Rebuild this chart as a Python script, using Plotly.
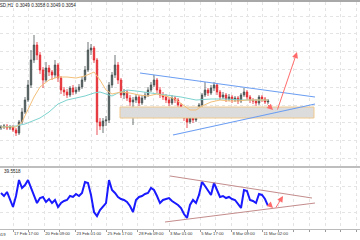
import plotly.graph_objects as go

# ---------------- data ----------------
idx = list(range(90))

opens = [0.3027,0.3028,0.3029,0.3027,0.3028,0.3025,0.3022,0.3033,0.3043,0.3055,
         0.3070,0.3095,0.3110,0.3100,0.3085,0.3075,0.3087,0.3083,0.3080,0.3090,
         0.3077,0.3065,0.3063,0.3060,0.3067,0.3063,0.3065,0.3068,0.3075,0.3085,
         0.3105,0.3107,0.3095,0.3033,0.3029,0.3034,0.3035,0.3070,0.3080,0.3090,
         0.3075,0.3060,0.3063,0.3057,0.3053,0.3055,0.3058,0.3052,0.3057,0.3060,
         0.3065,0.3070,0.3075,0.3065,0.3060,0.3058,0.3055,0.3052,0.3057,0.3055,
         0.3050,0.3045,0.3037,0.3033,0.3037,0.3035,0.3040,0.3050,0.3060,0.3065,
         0.3062,0.3067,0.3070,0.3063,0.3058,0.3060,0.3056,0.3058,0.3055,0.3057,
         0.3054,0.3060,0.3063,0.3058,0.3055,0.3054,0.3052,0.3058,0.3056,0.3053]
closes = [0.3028,0.3029,0.3027,0.3028,0.3025,0.3022,0.3033,0.3043,0.3055,0.3070,
          0.3095,0.3110,0.3100,0.3085,0.3075,0.3087,0.3083,0.3080,0.3090,0.3077,
          0.3065,0.3063,0.3060,0.3067,0.3063,0.3065,0.3068,0.3075,0.3085,0.3105,
          0.3107,0.3095,0.3033,0.3029,0.3034,0.3035,0.3070,0.3080,0.3090,0.3075,
          0.3060,0.3063,0.3057,0.3053,0.3055,0.3058,0.3052,0.3057,0.3060,0.3065,
          0.3070,0.3075,0.3065,0.3060,0.3058,0.3055,0.3052,0.3057,0.3055,0.3050,
          0.3045,0.3037,0.3033,0.3037,0.3035,0.3040,0.3050,0.3060,0.3065,0.3062,
          0.3067,0.3070,0.3063,0.3058,0.3060,0.3056,0.3058,0.3055,0.3057,0.3054,
          0.3060,0.3063,0.3058,0.3055,0.3054,0.3052,0.3058,0.3056,0.3053,0.3054]
highs = [0.3030,0.3031,0.3031,0.3030,0.3030,0.3027,0.3035,0.3047,0.3058,0.3075,
         0.3105,0.3120,0.3113,0.3103,0.3088,0.3093,0.3090,0.3085,0.3095,0.3092,
         0.3079,0.3068,0.3066,0.3069,0.3070,0.3068,0.3071,0.3078,0.3089,0.3113,
         0.3111,0.3109,0.3097,0.3037,0.3037,0.3039,0.3073,0.3083,0.3100,0.3093,
         0.3077,0.3066,0.3065,0.3060,0.3058,0.3061,0.3060,0.3060,0.3063,0.3068,
         0.3073,0.3080,0.3077,0.3068,0.3063,0.3061,0.3058,0.3060,0.3059,0.3057,
         0.3052,0.3047,0.3039,0.3040,0.3039,0.3043,0.3052,0.3062,0.3073,0.3067,
         0.3070,0.3073,0.3072,0.3065,0.3063,0.3062,0.3061,0.3060,0.3059,0.3059,
         0.3062,0.3067,0.3065,0.3060,0.3057,0.3056,0.3060,0.3060,0.3058,0.3056]
lows = [0.3025,0.3026,0.3025,0.3025,0.3023,0.3019,0.3020,0.3031,0.3041,0.3053,
        0.3067,0.3092,0.3095,0.3081,0.3067,0.3073,0.3079,0.3075,0.3077,0.3073,
        0.3061,0.3059,0.3057,0.3058,0.3060,0.3061,0.3063,0.3066,0.3073,0.3083,
        0.3100,0.3092,0.3020,0.3025,0.3022,0.3029,0.3032,0.3067,0.3077,0.3071,
        0.3057,0.3056,0.3054,0.3049,0.3030,0.3052,0.3049,0.3050,0.3055,0.3058,
        0.3063,0.3068,0.3062,0.3057,0.3055,0.3052,0.3049,0.3050,0.3052,0.3047,
        0.3042,0.3034,0.3027,0.3031,0.3032,0.3033,0.3038,0.3048,0.3058,0.3059,
        0.3060,0.3064,0.3060,0.3055,0.3056,0.3053,0.3054,0.3052,0.3053,0.3051,
        0.3052,0.3058,0.3055,0.3052,0.3051,0.3049,0.3050,0.3053,0.3051,0.3051]

ma_fast_x = [0,3,5,7,9,11,13,16,19,22,25,28,31,33,35,37,40,43,46,49,52,55,58,61,63,65,67,70,73,76,79,82,85,89]
ma_fast_y = [0.3028,0.3028,0.3028,0.3033,0.3045,0.3058,0.3068,0.3075,0.3078,0.3078,0.3077,0.3079,0.3083,0.3075,
             0.3065,0.3061,0.3063,0.3062,0.3060,0.3059,0.3061,0.3059,0.3056,0.3049,0.3045,0.3045,0.3049,0.3053,
             0.3055,0.3054,0.3054,0.3055,0.3055,0.3055]
ma_slow_x = [0,5,8,11,13,16,19,22,25,28,31,33,35,37,39,42,45,50,55,60,65,70,75,80,85,89]
ma_slow_y = [0.3028,0.3029,0.3031,0.3035,0.3037,0.3043,0.3051,0.3055,0.3057,0.3059,0.3062,0.3063,0.3061,
             0.3059,0.3062,0.3065,0.3064,0.3062,0.3060,0.3058,0.3055,0.3056,0.3056,0.3055,0.3055,0.3055]

upper_line_x = [46.33, 104.67]
upper_line_y = [0.3082, 0.3058]
lower_line_x = [57.33, 104.67]
lower_line_y = [0.3020, 0.3051]
zone_x = [39.67, 104.33]
zone_y = [0.3037, 0.3048]
arrow_dn_x = [88.33, 90.67]
arrow_dn_y = [0.3052, 0.3045]
arrow_up_x = [92.0, 98.67]
arrow_up_y = [0.3044, 0.3103]

rsi = [59.2,54.6,60.8,48.5,37.7,54.6,79.2,66.9,71.5,79.2,
       66.9,56.2,43.8,51.5,53.1,45.4,50.0,43.8,48.5,37.7,
       43.8,46.9,48.5,54.6,53.1,57.7,54.6,59.2,76.2,74.6,
       56.2,30.0,23.8,33.1,37.7,43.8,79.2,63.8,59.2,53.1,
       50.0,48.5,45.4,39.2,30.0,48.5,53.1,54.6,57.7,59.2,
       66.9,63.8,54.6,43.8,48.5,50.0,51.5,46.9,43.8,40.8,
       36.2,26.9,20.8,40.8,48.5,43.8,56.2,76.2,70.0,62.3,
       56.2,74.6,63.8,53.1,54.6,51.5,53.1,50.0,48.5,42.3,
       36.2,63.8,62.3,48.5,46.9,43.8,57.7,56.2,50.0,39.55]
rsi_upper_x = [56.33, 103.67]
rsi_upper_y = [85.4, 51.5]
rsi_lower_x = [54.67, 104.67]
rsi_lower_y = [14.6, 43.8]
rsi_arrow_dn_x = [89.0, 90.67]
rsi_arrow_dn_y = [43.8, 36.2]
rsi_arrow_up_x = [91.33, 94.0]
rsi_arrow_up_y = [34.6, 54.6]

grid_x = [4.0, 9.2, 14.4, 19.6, 24.8, 30.0, 35.2, 40.4, 45.6, 50.8, 56.0, 61.2,
          66.4, 71.6, 76.8, 82.0, 87.2, 92.4, 97.6, 102.8, 108.0, 113.2, 118.4]
grid_labels = ["17 Feb 17:00", "", "20 Feb 09:00", "", "23 Feb 01:00", "", "25 Feb 17:00", "",
               "28 Feb 09:00", "", "3 Mar 01:00", "", "5 Mar 17:00", "", "8 Mar 09:00", "",
               "11 Mar 02:00", "", "", "", "", "", ""]
price_grid = [0.29966, 0.30144, 0.30322, 0.30500, 0.30678, 0.30856, 0.31034, 0.31212, 0.31390]
rsi_levels = [30, 70]

header_text = "XRPUSD,H1  0.3049 0.3058 0.3049 0.3054"
rsi_label = "39.5518"
first_date = "15 Feb 2019"

# ---------------- figure ----------------
fig = go.Figure()

fig.add_trace(go.Scatter(
    x=[zone_x[0], zone_x[1], zone_x[1], zone_x[0], zone_x[0]],
    y=[zone_y[0], zone_y[0], zone_y[1], zone_y[1], zone_y[0]],
    fill="toself", fillcolor="#dcdcdc", mode="lines",
    line=dict(color="#f0c88c", width=1), xaxis="x", yaxis="y",
    hoverinfo="skip", showlegend=False))

fig.add_trace(go.Candlestick(
    x=idx, open=opens, high=highs, low=lows, close=closes,
    increasing=dict(line=dict(color="#465252", width=0.8), fillcolor="#465252"),
    decreasing=dict(line=dict(color="#e3272d", width=0.8), fillcolor="#e3272d"),
    whiskerwidth=0, xaxis="x", yaxis="y", hoverinfo="skip", showlegend=False))

fig.add_trace(go.Scatter(x=ma_slow_x, y=ma_slow_y, mode="lines", line=dict(color="#7dd3cf", width=1),
                         xaxis="x", yaxis="y", hoverinfo="skip", showlegend=False))
fig.add_trace(go.Scatter(x=ma_fast_x, y=ma_fast_y, mode="lines", line=dict(color="#f3c07a", width=1),
                         xaxis="x", yaxis="y", hoverinfo="skip", showlegend=False))

for lx, ly in [(upper_line_x, upper_line_y), (lower_line_x, lower_line_y)]:
    fig.add_trace(go.Scatter(x=lx, y=ly, mode="lines", line=dict(color="#6c9ef2", width=1.2),
                             xaxis="x", yaxis="y", hoverinfo="skip", showlegend=False))

fig.add_trace(go.Scatter(x=idx, y=rsi, mode="lines", line=dict(color="#1a1aff", width=2),
                         xaxis="x2", yaxis="y2", hoverinfo="skip", showlegend=False))
for lx, ly in [(rsi_upper_x, rsi_upper_y), (rsi_lower_x, rsi_lower_y)]:
    fig.add_trace(go.Scatter(x=lx, y=ly, mode="lines", line=dict(color="#c48c8c", width=1),
                             xaxis="x2", yaxis="y2", hoverinfo="skip", showlegend=False))

annotations = []
for ax_, ay_, xr_, yr_ in [(arrow_dn_x, arrow_dn_y, "x", "y"), (arrow_up_x, arrow_up_y, "x", "y"),
                           (rsi_arrow_dn_x, rsi_arrow_dn_y, "x2", "y2"),
                           (rsi_arrow_up_x, rsi_arrow_up_y, "x2", "y2")]:
    annotations.append(dict(x=ax_[1], y=ay_[1], ax=ax_[0], ay=ay_[0], xref=xr_, yref=yr_,
                            axref=xr_, ayref=yr_, showarrow=True, arrowhead=2, arrowsize=1.2,
                            arrowwidth=1, arrowcolor="#ff6b6b", text=""))

annotations.append(dict(x=-15.5 / 360, y=1 - 5 / 240, xref="paper", yref="paper", xanchor="left",
                        yanchor="middle", text=header_text, showarrow=False,
                        font=dict(family="Liberation Sans", size=4.6, color="#222222")))
annotations.append(dict(x=2 / 360, y=1 - 171 / 240, xref="paper", yref="paper", xanchor="left",
                        yanchor="middle", text=rsi_label, showarrow=False,
                        font=dict(family="Liberation Sans", size=4.6, color="#222222")))
annotations.append(dict(x=8 / 360, y=1 - 234 / 240, xref="paper", yref="paper", xanchor="right",
                        yanchor="middle", text=first_date, showarrow=False,
                        font=dict(family="Liberation Sans", size=4.2, color="#333333")))

shapes = [
    dict(type="line", xref="paper", yref="paper", x0=0, x1=1, y0=1 - 1 / 240, y1=1 - 1 / 240,
         line=dict(color="#a8a8a8", width=2)),
    dict(type="line", xref="paper", yref="paper", x0=0, x1=1, y0=1 - 167 / 240, y1=1 - 167 / 240,
         line=dict(color="#a8a8a8", width=1.5)),
]

xr = [-1 / 3, 359 / 3]
fig.update_layout(
    width=360, height=240, margin=dict(l=0, r=0, t=0, b=0),
    paper_bgcolor="white", plot_bgcolor="white", showlegend=False,
    xaxis=dict(domain=[0, 1], range=xr, anchor="y", tickvals=grid_x, showticklabels=False,
               showgrid=True, gridcolor="#e4e4e4", griddash="dot", gridwidth=1,
               zeroline=False, showline=False, ticks="", rangeslider=dict(visible=False)),
    xaxis2=dict(domain=[0, 1], range=xr, anchor="y2", matches="x", tickvals=grid_x,
                ticktext=grid_labels, ticklabelposition="outside right", tickangle=0,
                tickfont=dict(family="Liberation Sans", size=4.2, color="#333333"),
                showgrid=True, gridcolor="#e4e4e4", griddash="dot", gridwidth=1,
                ticks="outside", ticklen=2, tickcolor="#999999",
                zeroline=False, showline=True, linecolor="#bbbbbb", linewidth=1),
    yaxis=dict(domain=[1 - 166 / 240, 1 - 2 / 240], range=[0.2989, 0.3153], tickvals=price_grid,
               showticklabels=False, showgrid=True, gridcolor="#e4e4e4", griddash="dot",
               zeroline=False, showline=False),
    yaxis2=dict(domain=[1 - 229 / 240, 1 - 169 / 240], range=[3.85, 96.15], tickvals=rsi_levels,
                showticklabels=False, showgrid=True, gridcolor="#e4e4e4", griddash="dot",
                zeroline=False, showline=False),
    annotations=annotations, shapes=shapes,
)

fig.write_html("out.html")
